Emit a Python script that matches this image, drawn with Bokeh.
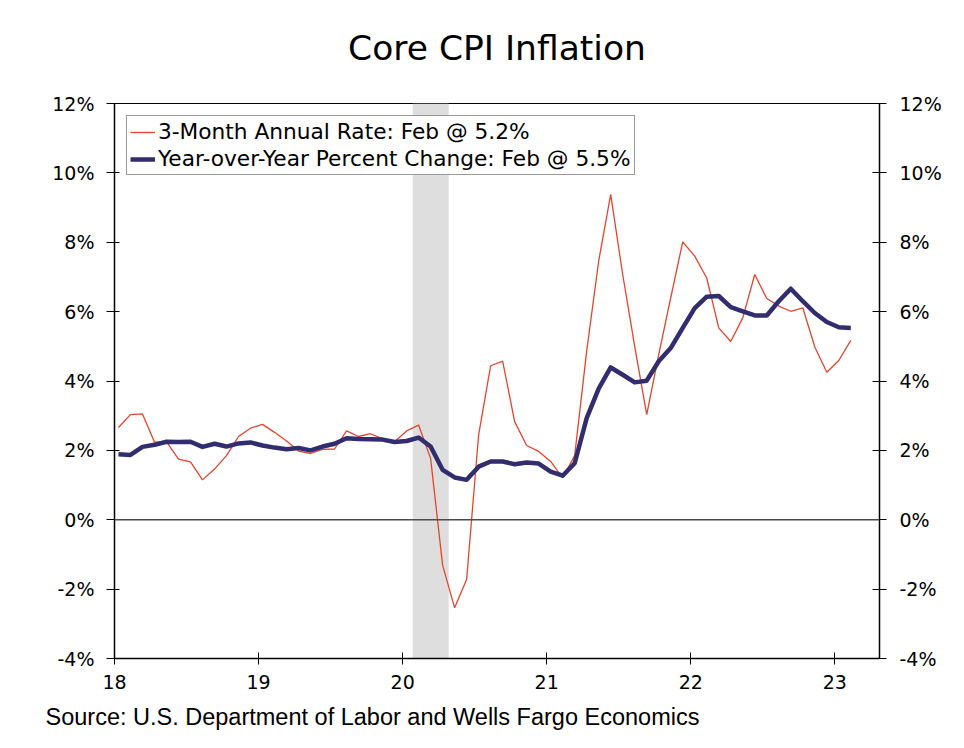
import pandas as pd
from bokeh.plotting import figure
from bokeh.models import (LinearAxis, FixedTicker, PrintfTickFormatter, Span,
                          BoxAnnotation, Title, Legend, LegendItem, Range1d,
                          ColumnDataSource)
from bokeh.embed import file_html
from bokeh.resources import INLINE

# ---------------- data ----------------
months = pd.period_range("2018-01", "2023-02", freq="M")

three_month_rate = [
    2.66, 3.03, 3.05, 2.24, 2.25, 1.75, 1.67, 1.15, 1.46, 1.85, 2.40, 2.64,
    2.75, 2.52, 2.27, 1.98, 1.91, 2.03, 2.04, 2.56, 2.40, 2.48, 2.33, 2.25,
    2.56, 2.73, 1.77, -1.31, -2.54, -1.72, 2.45, 4.44, 4.57, 2.83, 2.14, 1.97,
    1.68, 1.21, 1.85, 4.86, 7.46, 9.38, 7.07, 5.00, 3.03, 4.76, 6.40, 8.01,
    7.60, 6.97, 5.53, 5.14, 5.82, 7.07, 6.38, 6.16, 6.01, 6.11, 4.98, 4.25,
    4.59, 5.17,
]
yoy_change = [
    1.89, 1.87, 2.10, 2.16, 2.25, 2.24, 2.25, 2.10, 2.19, 2.11, 2.20, 2.23,
    2.14, 2.08, 2.03, 2.07, 2.00, 2.11, 2.19, 2.35, 2.33, 2.32, 2.31, 2.24,
    2.27, 2.37, 2.11, 1.44, 1.22, 1.15, 1.53, 1.68, 1.68, 1.60, 1.65, 1.62,
    1.39, 1.27, 1.63, 2.93, 3.78, 4.39, 4.18, 3.96, 4.01, 4.57, 4.95, 5.53,
    6.10, 6.43, 6.45, 6.13, 6.01, 5.89, 5.89, 6.30, 6.66, 6.30, 5.96, 5.70,
    5.55, 5.53,
]
year_ticks = [18, 19, 20, 21, 22, 23]
pct_ticks = [-4, -2, 0, 2, 4, 6, 8, 10, 12]
recession = (20.07, 20.32)   # Feb-Apr 2020 shading

label_3m = "3-Month Annual Rate: Feb @ 5.2%"
label_yoy = "Year-over-Year Percent Change: Feb @ 5.5%"
title_text = "Core CPI Inflation"
source_text = "Source: U.S. Department of Labor and Wells Fargo Economics"

# x as two-digit decimal year (points sit about a third into each month)
x_vals = [(m.year - 2000) + (m.month - 1 + 0.33) / 12 for m in months]
src = ColumnDataSource(dict(x=x_vals, r3=three_month_rate, yoy=yoy_change))

# ---------------- figure ----------------
FONT = "DejaVu Sans"
p = figure(width=964, height=748, output_backend="svg", toolbar_location=None,
           x_range=Range1d(18, 23.31), y_range=Range1d(-4, 12),
           min_border_left=114, min_border_right=85,
           min_border_top=103, min_border_bottom=90)
p.background_fill_color = "white"
p.border_fill_color = "white"
p.outline_line_color = "black"
p.outline_line_width = 1
p.xgrid.visible = False
p.ygrid.visible = False

# bottom (date) axis
xa = p.below[0]
xa.ticker = FixedTicker(ticks=year_ticks)
xa.formatter = PrintfTickFormatter(format="%d")
xa.minor_tick_line_color = None
xa.major_tick_in = 6
xa.major_tick_out = 6
xa.axis_line_width = 1.5
xa.axis_line_color = "black"
xa.major_tick_line_color = "black"
xa.major_label_standoff = 10
xa.major_label_text_font = FONT
xa.major_label_text_font_size = "19px"
xa.major_label_text_color = "black"

# left axis
ya = p.left[0]
ya.ticker = FixedTicker(ticks=pct_ticks)
ya.formatter = PrintfTickFormatter(format="%d%%")
ya.minor_tick_line_color = None
ya.major_tick_in = 5
ya.major_tick_out = 8
ya.axis_line_width = 1.5
ya.axis_line_color = "black"
ya.major_tick_line_color = "black"
ya.major_label_standoff = 12
ya.major_label_text_font = FONT
ya.major_label_text_font_size = "19px"
ya.major_label_text_color = "black"

# right axis
yr = LinearAxis(ticker=FixedTicker(ticks=pct_ticks),
                formatter=PrintfTickFormatter(format="%d%%"))
yr.minor_tick_line_color = None
yr.major_tick_in = 7
yr.major_tick_out = 7
yr.axis_line_width = 1.5
yr.axis_line_color = "black"
yr.major_tick_line_color = "black"
yr.major_label_standoff = 13
yr.major_label_text_font = FONT
yr.major_label_text_font_size = "19px"
yr.major_label_text_color = "black"
p.add_layout(yr, "right")

# invisible spacer between the title and the frame (transparent tick,
# empty label, no line)
spacer = LinearAxis(ticker=FixedTicker(ticks=[20]), major_tick_in=0,
                    major_tick_out=36, major_label_standoff=0,
                    major_label_overrides={20: ""},
                    major_label_text_font_size="1px",
                    axis_line_alpha=0, major_tick_line_alpha=0,
                    minor_tick_line_alpha=0)
p.add_layout(spacer, "above")

# title
p.title = Title(text=title_text, align="center", text_font=FONT,
                text_font_size="34.5px", text_font_style="normal",
                text_color="black", standoff=0)

# recession band
p.add_layout(BoxAnnotation(left=recession[0], right=recession[1],
                           fill_color="#DEDEDE", fill_alpha=1.0,
                           line_alpha=0, level="underlay"))
# zero line
p.add_layout(Span(location=0, dimension="width", line_color="#4a4a4a",
                  line_width=1.5))

r_red = p.line("x", "r3", source=src, line_color="#E4452F", line_width=1.3)
r_blue = p.line("x", "yoy", source=src, line_color="#312D6E", line_width=4.5,
                line_join="round")

# source note below the x axis
p.add_layout(Title(text=source_text, align="left", offset=-69,
                   text_font="Liberation Sans", text_font_size="23.5px",
                   text_font_style="normal", text_color="black",
                   standoff=20), "below")

# legend
legend = Legend(items=[LegendItem(label=label_3m, renderers=[r_red]),
                       LegendItem(label=label_yoy, renderers=[r_blue])],
                location="top_left", margin=12, padding=3, spacing=2,
                glyph_width=25, glyph_height=20, label_standoff=3,
                label_text_font=FONT, label_text_font_size="21.7px",
                label_text_color="black",
                border_line_color="#333333", border_line_width=1,
                background_fill_color="white", background_fill_alpha=1.0)
p.add_layout(legend)

open("out.html", "w").write(file_html(p, INLINE))
